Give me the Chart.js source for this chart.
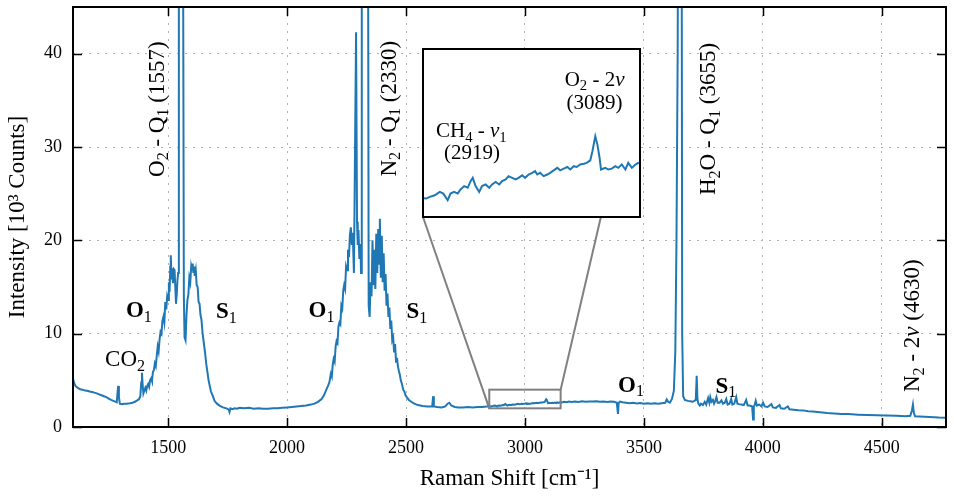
<!DOCTYPE html>
<html>
<head>
<meta charset="utf-8">
<script src="https://cdn.jsdelivr.net/npm/chart.js"></script>
<style>
body{margin:0;background:#fff}
#wrap{position:relative;width:954px;height:498px}
#wrap canvas{display:block}
#inset{position:absolute;left:422px;top:48px;width:219px;height:170px;border:2px solid #000;box-sizing:border-box;background:#fff}
</style>
</head>
<body>
<div id="wrap">
<canvas id="main" width="954" height="498"></canvas>
<div id="inset"><canvas id="zoom" width="215" height="166"></canvas></div>
</div>
<script>
// raman shift (cm-1) and intensity (10^3 counts)
const shift = [
 1100,1105,1110,1120,1130,1140,1150,1160,1170,1180,
 1190,1200,1210,1220,1230,1240,1250,1260,1270,1280,
 1284,1287,1290,1293,1297,1305,1315,1325,1340,1350,
 1360,1370,1378,1383,1387,1390,1393,1396,1400,1404,
 1408,1412,1416,1420,1424,1428,1432,1436,1440,1444,
 1448,1452,1456,1460,1464,1468,1472,1476,1480,1484,
 1488,1492,1496,1500,1503,1506,1509,1511,1514,1517,
 1520,1524,1527,1530,1533,1536,1539,1542,1545,1554,
 1562,1566,1569,1573,1577,1581,1585,1589,1593,1597,
 1600,1603,1606,1609,1612,1616,1620,1624,1628,1632,
 1636,1640,1645,1650,1655,1660,1665,1670,1675,1680,
 1688,1695,1705,1716,1730,1745,1755,1758,1762,1770,
 1780,1790,1800,1820,1840,1860,1880,1900,1920,1940,
 1960,1980,2000,2020,2040,2060,2080,2100,2115,2130,
 2145,2155,2165,2172,2178,2184,2188,2192,2196,2200,
 2204,2208,2212,2216,2220,2224,2228,2232,2236,2240,
 2244,2248,2252,2256,2260,2264,2268,2272,2276,2281,
 2284,2290,2294,2297,2300,2304,2308,2311,2314,2328,
 2340,2343,2347,2351,2355,2359,2363,2367,2371,2375,
 2379,2383,2387,2390,2394,2398,2402,2406,2410,2414,
 2418,2422,2426,2430,2434,2438,2442,2446,2450,2454,
 2458,2462,2466,2470,2474,2478,2483,2488,2493,2498,
 2503,2512,2522,2535,2550,2570,2590,2610,2614,2617,
 2630,2650,2665,2675,2682,2690,2705,2720,2740,2760,
 2780,2800,2820,2840,2847,2853,2858,2865,2872,2877,
 2883,2887,2892,2897,2901,2906,2911,2915,2918,2922,
 2927,2931,2936,2941,2945,2950,2955,2959,2964,2968,
 2973,2978,2982,2987,2991,2996,3001,3005,3008,3012,
 3017,3022,3026,3031,3036,3040,3045,3050,3054,3059,
 3063,3068,3073,3077,3082,3085,3089,3092,3095,3097,
 3103,3107,3112,3117,3121,3126,3131,3135,3140,3145,
 3149,3155,3165,3175,3185,3195,3210,3225,3240,3255,
 3270,3285,3300,3315,3330,3345,3360,3375,3386,3391,
 3394,3400,3410,3425,3440,3455,3470,3485,3500,3515,
 3530,3545,3560,3575,3590,3596,3602,3609,3618,3626,
 3632,3637,3642,3646,3652,3658,3661,3665,3672,3685,
 3695,3705,3712,3718,3722,3725,3729,3735,3740,3748,
 3756,3762,3770,3775,3779,3784,3790,3795,3800,3805,
 3810,3818,3826,3832,3840,3846,3852,3860,3867,3872,
 3880,3888,3893,3900,3910,3920,3930,3936,3945,3955,
 3959,3962,3966,3970,3975,3985,3994,4001,4008,4020,
 4036,4042,4055,4070,4076,4090,4105,4112,4130,4150,
 4170,4190,4210,4230,4250,4270,4300,4330,4360,4400,
 4440,4480,4520,4560,4600,4620,4627,4631,4635,4640,
 4660,4700,4740,4770
];
const counts = [
 5.2,4.7,4.4,4.2,4.05,4.0,3.9,3.88,3.8,3.75,
 3.68,3.6,3.5,3.4,3.3,3.2,3.05,2.9,2.8,2.7,
 2.65,3.6,4.4,3.2,2.5,2.45,2.5,2.5,2.55,2.6,
 2.7,2.85,3.0,3.3,4.8,5.8,4.4,3.6,3.9,4.2,
 3.9,4.4,4.6,4.3,5.0,5.2,4.9,5.9,6.1,6.8,
 6.5,7.6,8.6,8.1,9.4,10.2,10.0,11.4,11.8,11.2,
 13.4,12.6,14.0,13.6,15.5,14.5,17.2,18.4,15.8,17.0,
 15.4,16.9,16.8,15.0,13.2,14.2,15.7,16.5,60,300,
 60,14,9.6,9.3,12.0,13.6,14.2,16.0,15.5,17.2,
 16.8,17.5,16.5,17.2,16.2,16.8,15.2,15.0,13.4,13.2,
 12.0,11.5,10.0,9.0,8.0,6.8,5.9,5.0,4.4,3.8,
 3.3,2.8,2.5,2.3,2.1,2.0,1.85,1.6,2.0,1.9,
 2.0,1.95,2.05,2.0,2.05,1.95,2.0,1.95,1.95,2.0,
 2.0,2.05,2.1,2.15,2.2,2.25,2.3,2.4,2.5,2.7,
 3.0,3.4,4.0,4.4,4.8,5.7,5.4,6.7,7.3,7.0,
 8.6,9.2,9.0,10.8,11.2,11.0,13.0,12.7,14.6,15.2,
 14.8,17.2,16.8,19.0,18.2,20.5,21.4,19.5,20.8,16.5,
 25,42.3,22,19.5,21.1,18.0,19.6,16.5,60,300,
 60,13,11.8,15.5,14.0,20.0,15.2,19.0,14.8,20.7,
 16.5,21.2,17.5,22.3,16.0,20.5,15.5,18.6,14.6,16.4,
 13.0,14.3,11.8,12.8,10.5,11.4,9.3,9.6,8.0,8.9,
 7.0,7.4,6.5,6.0,5.6,5.0,4.6,4.0,3.8,3.4,
 3.2,2.9,2.7,2.5,2.35,2.25,2.2,2.2,3.3,2.2,
 2.15,2.1,2.2,2.5,2.6,2.3,2.15,2.1,2.1,2.15,
 2.1,2.15,2.15,2.2,2.22,2.21,2.23,2.25,2.29,2.27,
 2.19,2.27,2.29,2.27,2.32,2.36,2.34,2.42,2.46,2.36,
 2.29,2.36,2.38,2.34,2.38,2.41,2.38,2.42,2.44,2.48,
 2.46,2.44,2.46,2.49,2.46,2.50,2.52,2.54,2.50,2.52,
 2.48,2.50,2.52,2.55,2.58,2.55,2.57,2.59,2.56,2.60,
 2.59,2.62,2.63,2.64,2.67,2.78,2.96,2.86,2.70,2.56,
 2.58,2.56,2.57,2.60,2.58,2.62,2.56,2.64,2.58,2.62,
 2.64,2.62,2.7,2.65,2.72,2.68,2.72,2.68,2.75,2.7,
 2.74,2.72,2.76,2.7,2.74,2.68,2.72,2.7,2.6,1.4,
 2.6,2.72,2.65,2.6,2.55,2.6,2.52,2.58,2.5,2.55,
 2.48,2.55,2.5,2.55,2.6,2.95,2.7,2.6,3.0,3.9,
 8,20,40,80,200,70,10,3.3,2.9,2.8,
 2.75,2.7,2.8,2.9,5.5,3.0,2.5,2.3,2.5,2.35,
 2.7,2.4,3.1,2.6,3.2,2.7,2.9,2.5,2.8,3.2,
 2.6,2.6,2.85,2.5,2.6,3.0,2.4,2.5,3.0,2.4,
 2.5,3.2,2.5,2.45,2.4,2.35,2.9,2.3,2.3,2.2,
 0.8,2.2,2.4,2.8,2.3,2.4,2.2,2.6,2.2,2.15,
 2.45,2.1,2.05,2.35,2.0,1.95,2.2,1.9,1.85,1.8,
 1.78,1.7,1.65,1.6,1.55,1.5,1.45,1.4,1.38,1.32,
 1.28,1.25,1.22,1.2,1.16,1.2,1.8,2.4,1.5,1.15,
 1.12,1.08,1.02,1.0
];
const xTicks = [1500, 2000, 2500, 3000, 3500, 4000, 4500];
const yTicks = [0, 10, 20, 30, 40];
const zoomX = [2850, 3150];
const zoomY = [2, 4];

const points = shift.map((s, i) => ({x: s, y: counts[i]}));
const FAM = '"Liberation Serif", serif';

// text with sub/italic/bold pieces, centred on (x, y) = middle of capitals
function richText(ctx, parts, x, y, size, rot) {
  const fontOf = st => (st.includes('i') ? 'italic ' : '') + (st.includes('b') ? 'bold ' : '') +
    (st.includes('_') ? size * 0.7 : size) + 'px ' + FAM;
  let w = 0;
  parts.forEach(([t, st]) => { ctx.font = fontOf(st); w += ctx.measureText(t).width; });
  ctx.save();
  ctx.translate(x, y);
  if (rot) ctx.rotate(-Math.PI / 2);
  ctx.textBaseline = 'alphabetic';
  ctx.textAlign = 'left';
  ctx.fillStyle = '#000';
  let cx = -w / 2;
  const base = size * 0.33;
  parts.forEach(([t, st]) => {
    ctx.font = fontOf(st);
    ctx.fillText(t, cx, base + (st.includes('_') ? size * 0.2 : 0));
    cx += ctx.measureText(t).width;
  });
  ctx.restore();
}

const notes = [
  {parts: [['O',''],['2','_'],[' - Q',''],['1','_'],[' (1557)','']], x: 1449, y: 34.05, rot: true},
  {parts: [['N',''],['2','_'],[' - Q',''],['1','_'],[' (2330)','']], x: 2425, y: 34.1, rot: true},
  {parts: [['H',''],['2','_'],['O - Q',''],['1','_'],[' (3655)','']], x: 3767, y: 33.0, rot: true},
  {parts: [['N',''],['2','_'],[' - 2',''],['ν','i'],[' (4630)','']], x: 4625, y: 10.85, rot: true},
  {parts: [['CO',''],['2','_']], x: 1319, y: 7.33},
  {parts: [['O','b'],['1','_']], x: 1377, y: 12.6},
  {parts: [['S','b'],['1','_']], x: 1745, y: 12.5},
  {parts: [['O','b'],['1','_']], x: 2145, y: 12.6},
  {parts: [['S','b'],['1','_']], x: 2546, y: 12.5},
  {parts: [['O','b'],['1','_']], x: 3446, y: 4.58},
  {parts: [['S','b'],['1','_']], x: 3845, y: 4.47}
];
const insetNotes = [
  {parts: [['CH',''],['4','_'],[' - ',''],['ν','i'],['1','_']], x: 2916, y: 3.03},
  {parts: [['(2919)','']], x: 2917, y: 2.77},
  {parts: [['O',''],['2','_'],[' - 2',''],['ν','i']], x: 3088, y: 3.65},
  {parts: [['(3089)','']], x: 3088, y: 3.37}
];

const decor = {
  id: 'decor',
  afterDatasetsDraw(chart) {
    const {ctx, chartArea: a, scales: {x, y}} = chart;
    ctx.save();
    // zoom box + connectors to the inset
    const bx0 = x.getPixelForValue(zoomX[0]), bx1 = x.getPixelForValue(zoomX[1]);
    const by0 = y.getPixelForValue(zoomY[0]), by1 = y.getPixelForValue(zoomY[1]);
    ctx.strokeStyle = '#808080';
    ctx.lineWidth = 2;
    ctx.strokeRect(bx0, by1, bx1 - bx0, by0 - by1);
    const el = document.getElementById('inset');
    const L = el.offsetLeft + 1, T = el.offsetTop + 1;
    const R = el.offsetLeft + el.offsetWidth - 1, B = el.offsetTop + el.offsetHeight - 1;
    ctx.beginPath();
    ctx.moveTo(L, B); ctx.lineTo(bx0, by0);
    ctx.moveTo(R, T); ctx.lineTo(bx1, by1);
    ctx.stroke();
    // frame
    ctx.strokeStyle = '#000';
    ctx.lineWidth = 2;
    ctx.strokeRect(a.left, a.top, a.width, a.height);
    // inward ticks on all sides
    ctx.lineWidth = 1.5;
    ctx.beginPath();
    xTicks.forEach(v => {
      const p = Math.round(x.getPixelForValue(v)) + 0.5;
      ctx.moveTo(p, a.bottom); ctx.lineTo(p, a.bottom - 9);
      ctx.moveTo(p, a.top); ctx.lineTo(p, a.top + 9);
    });
    yTicks.forEach(v => {
      const p = Math.round(y.getPixelForValue(v)) + 0.5;
      ctx.moveTo(a.left, p); ctx.lineTo(a.left + 9, p);
      ctx.moveTo(a.right, p); ctx.lineTo(a.right - 9, p);
    });
    ctx.stroke();
    notes.forEach(n => richText(ctx, n.parts, x.getPixelForValue(n.x), y.getPixelForValue(n.y), 23, n.rot));
    ctx.restore();
  }
};

new Chart(document.getElementById('main'), {
  type: 'line',
  data: {datasets: [{data: points, borderColor: '#1f77b4', borderWidth: 2, pointRadius: 0, tension: 0, fill: false}]},
  options: {
    responsive: false, animation: false, events: [],
    layout: {padding: {left: 0, right: 8, top: 7, bottom: 0}},
    plugins: {legend: {display: false}, tooltip: {enabled: false}},
    scales: {
      x: {
        type: 'linear', min: 1100, max: 4770,
        afterBuildTicks: s => { s.ticks = xTicks.map(v => ({value: v})); },
        afterFit: s => { s.height = 71; s.paddingLeft = 0; s.paddingRight = 0; },
        grid: {color: '#b0b0b0', lineWidth: 1, drawTicks: false},
        border: {display: false, dash: [2, 6]},
        ticks: {font: {family: FAM, size: 18}, color: '#000', padding: 10, maxRotation: 0, autoSkip: false, callback: v => String(v)},
        title: {display: true, text: 'Raman Shift [cm⁻¹]', font: {family: FAM, size: 23}, color: '#000', padding: {top: 0, bottom: 5}}
      },
      y: {
        min: 0, max: 45,
        afterBuildTicks: s => { s.ticks = yTicks.map(v => ({value: v})); },
        afterFit: s => { s.width = 73; s.paddingTop = 0; s.paddingBottom = 0; },
        grid: {color: '#b0b0b0', lineWidth: 1, drawTicks: false},
        border: {display: false, dash: [2, 6]},
        ticks: {font: {family: FAM, size: 18}, color: '#000', padding: 11, callback: v => String(v)},
        title: {display: true, text: 'Intensity [10³ Counts]', font: {family: FAM, size: 23}, color: '#000', padding: {top: 4, bottom: 0}}
      }
    }
  },
  plugins: [decor]
});

new Chart(document.getElementById('zoom'), {
  type: 'line',
  data: {datasets: [{data: points, borderColor: '#1f77b4', borderWidth: 2, pointRadius: 0, tension: 0, fill: false}]},
  options: {
    responsive: false, animation: false, events: [],
    layout: {padding: 0},
    plugins: {legend: {display: false}, tooltip: {enabled: false}},
    scales: {
      x: {type: 'linear', min: zoomX[0], max: zoomX[1], display: false},
      y: {min: zoomY[0], max: zoomY[1], display: false}
    }
  },
  plugins: [{
    id: 'insetNotes',
    afterDatasetsDraw(chart) {
      const {ctx, scales: {x, y}} = chart;
      insetNotes.forEach(n => richText(ctx, n.parts, x.getPixelForValue(n.x), y.getPixelForValue(n.y), 21, false));
    }
  }]
});
</script>
</body>
</html>
